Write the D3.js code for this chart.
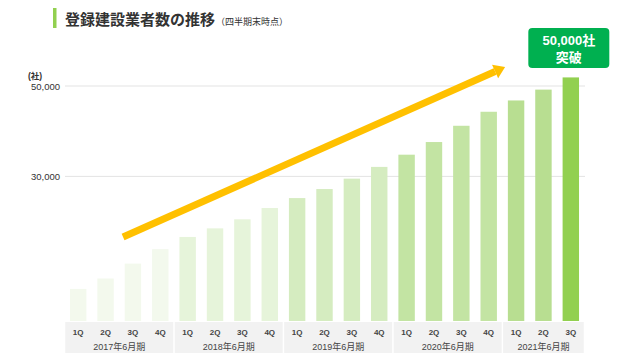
<!DOCTYPE html>
<html>
<head>
<meta charset="utf-8">
<script src="https://cdn.jsdelivr.net/npm/d3@7"></script>
<style>
  body { margin: 0; background: #fff; }
  svg { display: block; font-family: 'Liberation Sans', 'Noto Sans CJK JP', sans-serif; }
</style>
</head>
<body>
<script>
// data
const quarters = ['1Q', '2Q', '3Q', '4Q', '1Q', '2Q', '3Q', '4Q', '1Q', '2Q', '3Q', '4Q',
  '1Q', '2Q', '3Q', '4Q', '1Q', '2Q', '3Q'];
const years = ['2017年6月期', '2018年6月期', '2019年6月期', '2020年6月期', '2021年6月期'];
const yearIndex = [0, 0, 0, 0, 1, 1, 1, 1, 2, 2, 2, 2, 3, 3, 3, 3, 4, 4, 4];
const counts = [5100, 7400, 10700, 13900, 16600, 18500, 20500, 23000, 25200, 27200,
  29500, 32100, 34800, 37600, 41200, 44300, 46800, 49200, 51900];
const yTicks = [30000, 50000];
const yearColors = ['#f3f9ed', '#e6f4da', '#d5ecc0', '#c3e4a3', '#b8de91'];
const lastColor = '#92d050';

const W = 640, H = 360;
const svg = d3.select('body').append('svg').attr('width', W).attr('height', H);

const keys = counts.map((d, i) => i);
const x = d3.scaleBand().domain(keys).range([64.5, 584.5]).paddingInner(0.4).paddingOuter(0.2);
// the original baseline sits a little below zero
const y = d3.scaleLinear().domain([-2000, 50000]).range([321, 86]);

// title
svg.append('rect').attr('x', 53).attr('y', 8).attr('width', 3.5).attr('height', 20).attr('fill', lastColor);
const title = svg.append('text').attr('x', 65).attr('y', 25).attr('fill', '#333')
  .attr('font-family', 'Noto Sans CJK JP');
title.append('tspan').attr('font-size', 15).attr('font-weight', 'bold').text('登録建設業者数の推移');
title.append('tspan').attr('font-size', 9).attr('dx', 1).text('（四半期末時点）');

// gridlines + labels
const grid = svg.append('g');
grid.selectAll('line').data(yTicks).join('line')
  .attr('x1', 65).attr('x2', 585)
  .attr('y1', (d) => y(d)).attr('y2', (d) => y(d))
  .attr('stroke', '#e3e3e3').attr('stroke-width', 1);
grid.selectAll('text').data(yTicks).join('text')
  .attr('x', 60).attr('y', (d) => y(d) + 3.5)
  .attr('text-anchor', 'end').attr('font-size', 9.5).attr('fill', '#333')
  .text(d3.format(','));
svg.append('text').attr('x', 28).attr('y', 79).attr('font-size', 8.5).attr('fill', '#333')
  .attr('font-weight', 'bold').text('(社)');

// bars
svg.append('g').selectAll('rect').data(counts).join('rect')
  .attr('x', (d, i) => x(i))
  .attr('y', (d) => y(d))
  .attr('width', x.bandwidth())
  .attr('height', (d) => y.range()[0] - y(d))
  .attr('fill', (d, i) => i === counts.length - 1 ? lastColor : yearColors[yearIndex[i]]);

// category band
const bandTop = 322, bandBottom = 353;
const step = x.step();
const groups = years.map((yr, g) => {
  const idx = keys.filter((i) => yearIndex[i] === g);
  return {
    name: yr,
    x0: x(idx[0]) - step * 0.2,
    x1: x(idx[idx.length - 1]) + x.bandwidth() + step * 0.2
  };
});
const axis = svg.append('g');
axis.selectAll('rect').data(groups).join('rect')
  .attr('x', (d) => d.x0 + 0.75).attr('y', bandTop)
  .attr('width', (d) => d.x1 - d.x0 - 1.5).attr('height', bandBottom - bandTop)
  .attr('fill', '#f2f2f2');
axis.selectAll('text.q').data(quarters).join('text')
  .attr('class', 'q')
  .attr('x', (d, i) => x(i) + x.bandwidth() / 2).attr('y', 334.5)
  .attr('text-anchor', 'middle').attr('font-size', 8).attr('font-weight', 'bold').attr('fill', '#444')
  .text(String);
axis.selectAll('text.yr').data(groups).join('text')
  .attr('class', 'yr')
  .attr('x', (d) => (d.x0 + d.x1) / 2).attr('y', 349.5)
  .attr('text-anchor', 'middle').attr('font-size', 9).attr('fill', '#444')
  .text((d) => d.name);

// trend arrow, placed in data space
const cx = (i) => x.range()[0] + step * (x.paddingOuter() + i + 0.5 - x.paddingInner() / 2);
const p0 = [cx(1.64), y(16600)];
const p1 = [cx(15.6), y(54200)];
const ang = Math.atan2(p1[1] - p0[1], p1[0] - p0[0]);
const headLen = 11, headW = 7.5;
const base = [p1[0] - headLen * Math.cos(ang), p1[1] - headLen * Math.sin(ang)];
const nx = -Math.sin(ang), ny = Math.cos(ang);
svg.append('line')
  .attr('x1', p0[0]).attr('y1', p0[1]).attr('x2', base[0]).attr('y2', base[1])
  .attr('stroke', '#ffc000').attr('stroke-width', 7);
svg.append('path')
  .attr('d', d3.line()([p1, [base[0] + nx * headW, base[1] + ny * headW], [base[0] - nx * headW, base[1] - ny * headW]]) + 'Z')
  .attr('fill', '#ffc000');

// callout over the last bar
const lastX = x(counts.length - 1) + x.bandwidth() / 2 - 2;
const cTop = y(54000) - 40;
const callout = svg.append('g');
callout.append('rect')
  .attr('x', lastX - 40.5).attr('y', cTop).attr('width', 81).attr('height', 40)
  .attr('rx', 4).attr('fill', '#00b050');
callout.append('text').attr('x', lastX).attr('y', cTop + 17)
  .attr('text-anchor', 'middle').attr('font-size', 13).attr('font-weight', 'bold').attr('fill', '#fff')
  .text('50,000社');
callout.append('text').attr('x', lastX).attr('y', cTop + 34)
  .attr('text-anchor', 'middle').attr('font-size', 13).attr('font-weight', 'bold').attr('fill', '#fff')
  .attr('font-family', 'Noto Sans CJK JP')
  .text('突破');
</script>
</body>
</html>
